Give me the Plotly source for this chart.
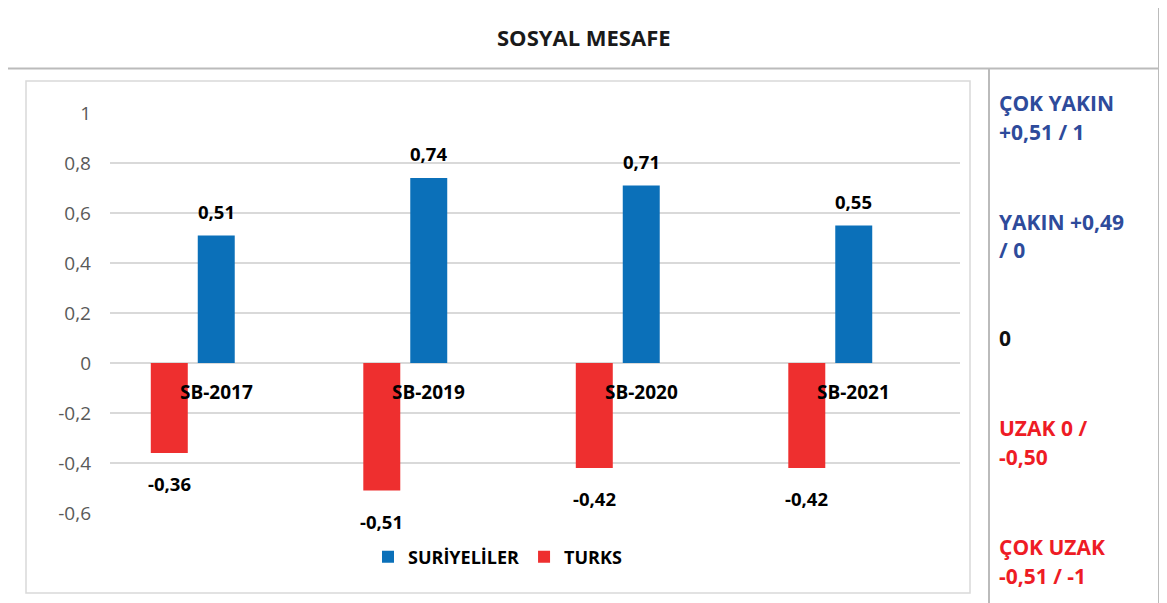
import plotly.graph_objects as go

# ---- data ----
categories = ["SB-2017", "SB-2019", "SB-2020", "SB-2021"]
suriyeliler = [0.51, 0.74, 0.71, 0.55]
turks = [-0.36, -0.51, -0.42, -0.42]
series_names = ["SURİYELİLER", "TURKS"]
tick_vals = [-0.6, -0.4, -0.2, 0, 0.2, 0.4, 0.6, 0.8, 1]
tick_text = ["-0,6", "-0,4", "-0,2", "0", "0,2", "0,4", "0,6", "0,8", "1"]
title_text = "SOSYAL MESAFE"
side_lines = [
    ("ÇOK YAKIN", "blue"), ("+0,51 / 1", "blue"),
    ("YAKIN +0,49", "blue"), ("/ 0", "blue"),
    ("0", "black"),
    ("UZAK 0 /", "red"), ("-0,50", "red"),
    ("ÇOK UZAK", "red"), ("-0,51 / -1", "red"),
]

# ---- styling / layout helpers ----
# the page body has an 8px margin, so the figure is drawn 8px in and 8px smaller
OFF = 8
W, H = 1167 - OFF, 603 - OFF
FONT = "Open Sans"
BLUE = "#0B70B9"
RED = "#EE2F2F"
TXT_COL = {"blue": "#2E4B9B", "red": "#EE1C25", "black": "#111111"}
side_y = [103, 132, 222, 250, 338, 428, 457, 547, 576]


def px(x):
    return (x - OFF) / W


def py(y):
    return 1 - (y - OFF) / H


def fmt(v):
    return f"{v:.2f}".replace(".", ",")


CAT_PX = (960 - 110) / 4  # pixel width of one category
BAR_W = 0.174
BLUE_OFF = -0.087
RED_OFF = -0.308

fig = go.Figure()
fig.add_trace(go.Bar(
    x=categories, y=turks, name=series_names[1], marker_color=RED,
    width=BAR_W, offset=RED_OFF, legendrank=2, marker_line_width=0,
))
fig.add_trace(go.Bar(
    x=categories, y=suriyeliler, name=series_names[0], marker_color=BLUE,
    width=BAR_W, offset=BLUE_OFF, legendrank=1, marker_line_width=0,
))

annotations = []
label_font = dict(family=FONT, size=18.5, color="#000000")
cat_font = dict(family=FONT, size=19, color="#000000")
for c, v in zip(categories, suriyeliler):
    annotations.append(dict(
        x=c, y=v, xref="x", yref="y", text="<b>" + fmt(v) + "</b>",
        showarrow=False, yanchor="bottom", yshift=10,
        xshift=(BLUE_OFF + BAR_W / 2) * CAT_PX, font=label_font,
    ))
red_center = (RED_OFF + BAR_W / 2) * CAT_PX
for c, v in zip(categories, turks):
    annotations.append(dict(
        x=c, y=v, xref="x", yref="y", text="<b>" + fmt(v) + "</b>",
        showarrow=False, yanchor="top", yshift=-16,
        xshift=red_center, font=label_font,
    ))
for c in categories:
    annotations.append(dict(
        x=c, y=0, xref="x", yref="y", text="<b>" + c + "</b>",
        showarrow=False, yanchor="middle", yshift=-29, font=cat_font,
    ))
for (t, col), yy in zip(side_lines, side_y):
    annotations.append(dict(
        x=px(997), y=py(yy), xref="paper", yref="paper", text="<b>" + t + "</b>",
        showarrow=False, xanchor="left", yanchor="middle",
        font=dict(family=FONT, size=21, color=TXT_COL[col]),
    ))
annotations.append(dict(
    x=px(584), y=py(37), xref="paper", yref="paper",
    text="<b>" + title_text + "</b>", showarrow=False,
    xanchor="center", yanchor="middle",
    font=dict(family=FONT, size=22, color="#1a1a1a"),
))

BORDER = "#BBBBBB"
shapes = [
    dict(type="line", xref="paper", yref="paper", x0=px(1159), x1=px(1159), y0=py(8), y1=py(603),
         line=dict(color=BORDER, width=2)),
    dict(type="line", xref="paper", yref="paper", x0=px(8), x1=px(1160), y0=py(68.5), y1=py(68.5),
         line=dict(color=BORDER, width=2)),
    dict(type="line", xref="paper", yref="paper", x0=px(989), x1=px(989), y0=py(68), y1=py(603),
         line=dict(color=BORDER, width=2)),
    # inner chart box
    dict(type="rect", xref="paper", yref="paper", x0=px(26), x1=px(970), y0=py(593), y1=py(81),
         line=dict(color="#D9D9D9", width=1.5)),
]

fig.update_layout(
    width=W, height=H,
    margin=dict(l=0, r=0, t=0, b=0, autoexpand=False),
    paper_bgcolor="white", plot_bgcolor="white",
    barmode="overlay",
    showlegend=True,
    legend=dict(
        orientation="h", x=px(368), y=py(557), xanchor="left", yanchor="middle",
        font=dict(family=FONT, size=18, color="#000000", weight="bold"),
        itemwidth=30, bgcolor="rgba(0,0,0,0)",
    ),
    xaxis=dict(
        domain=[px(110), px(960)], showticklabels=False, showgrid=False,
        zeroline=False, showline=False, ticks="", range=[-0.5, 3.5],
        automargin=False,
    ),
    yaxis=dict(
        domain=[py(513), py(113)], range=[-0.6, 1.0],
        tickvals=tick_vals, ticktext=tick_text,
        tickfont=dict(family=FONT, size=19, color="#595959"),
        showgrid=True, gridcolor="#D9D9D9", gridwidth=1.5,
        zeroline=True, zerolinecolor="#D9D9D9", zerolinewidth=1.5,
        showline=False, ticks="", ticklabelstandoff=18, automargin=False,
    ),
    annotations=annotations,
    shapes=shapes,
)

fig.write_html("out.html")
